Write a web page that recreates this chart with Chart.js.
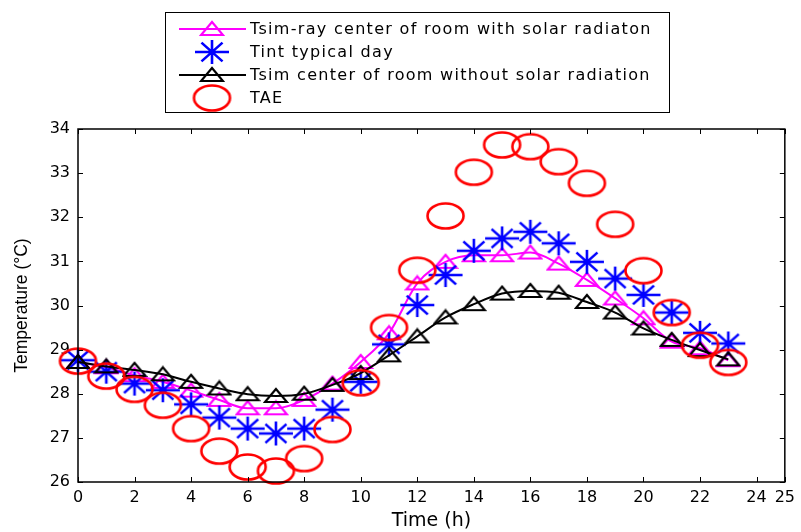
<!DOCTYPE html>
<html>
<head>
<meta charset="utf-8">
<script src="https://cdn.jsdelivr.net/npm/chart.js@4.4.0/dist/chart.umd.min.js"></script>
<style>
    html, body { margin: 0; padding: 0; background: #fff; }
    #wrap { width: 801px; height: 532px; }
</style>
</head>
<body>
<div id="wrap"><canvas id="tempChart" width="801" height="532"></canvas></div>
<script>
    "use strict";

    // Data (hourly values)
    const hours = [0, 1, 2, 3, 4, 5, 6, 7, 8, 9, 10, 11, 12, 13, 14, 15, 16, 17, 18, 19, 20, 21, 22, 23];
    const tsimRay = [28.72, 28.6, 28.42, 28.27, 28.07, 27.86, 27.67, 27.67, 27.86, 28.23, 28.72, 29.37,
        30.5, 30.99, 31.14, 31.14, 31.2, 30.95, 30.58, 30.16, 29.71, 29.18, 29.03, 28.76];
    const tintDay = [28.76, 28.5, 28.23, 28.08, 27.76, 27.46, 27.21, 27.1, 27.21, 27.64, 28.27, 29.12,
        30.01, 30.69, 31.24, 31.52, 31.67, 31.41, 30.99, 30.61, 30.24, 29.84, 29.38, 29.14];
    const tsimNoSolar = [28.72, 28.62, 28.54, 28.44, 28.27, 28.12, 27.99, 27.95, 28.0, 28.2, 28.47, 28.87,
        29.3, 29.73, 30.03, 30.27, 30.33, 30.29, 30.08, 29.84, 29.48, 29.22, 28.99, 28.78];
    const tae = [28.74, 28.4, 28.1, 27.74, 27.21, 26.7, 26.34, 26.25, 26.53, 27.19, 28.25, 29.5,
        30.8, 32.03, 33.02, 33.64, 33.6, 33.26, 32.77, 31.84, 30.79, 29.84, 29.1, 28.71];

    const xTicks = [0, 2, 4, 6, 8, 10, 12, 14, 16, 18, 20, 22, 24, 25];
    const yTicks = [26, 27, 28, 29, 30, 31, 32, 33, 34];

    const seriesNames = [
        'Tsim-ray center of room with solar radiaton',
        'Tint typical day',
        'Tsim center of room without solar radiation',
        'TAE'
    ];

    const FONT = "'DejaVu Sans', Arial, sans-serif";
    const FONT_Y = "'Liberation Sans', Arial, sans-serif";

    // Marker images (MATLAB style, slightly stretched horizontally)
    function makeCanvas(w, h) {
        const c = document.createElement('canvas');
        c.width = w;
        c.height = h;
        return c;
    }

    function ellipseMarker(color) {
        const c = makeCanvas(41, 30);
        const g = c.getContext('2d');
        g.strokeStyle = color;
        g.lineWidth = 2.6;
        g.beginPath();
        g.ellipse(20.5, 15, 18, 12.5, 0, 0, Math.PI * 2);
        g.stroke();
        return c;
    }

    function starMarker(color) {
        const c = makeCanvas(38, 28);
        const g = c.getContext('2d');
        const cx = 19, cy = 14, rx = 17, ry = 12;
        g.strokeStyle = color;
        g.lineWidth = 2.6;
        g.beginPath();
        g.moveTo(cx - rx, cy); g.lineTo(cx + rx, cy);
        g.moveTo(cx, cy - ry); g.lineTo(cx, cy + ry);
        g.moveTo(cx - rx * 0.62, cy - ry * 0.78); g.lineTo(cx + rx * 0.62, cy + ry * 0.78);
        g.moveTo(cx - rx * 0.62, cy + ry * 0.78); g.lineTo(cx + rx * 0.62, cy - ry * 0.78);
        g.stroke();
        return c;
    }

    function triangleMarker(color) {
        const c = makeCanvas(26, 18);
        const g = c.getContext('2d');
        g.strokeStyle = color;
        g.lineWidth = 2.2;
        g.lineJoin = 'miter';
        g.beginPath();
        g.moveTo(13, 2);
        g.lineTo(24, 15);
        g.lineTo(2, 15);
        g.closePath();
        g.stroke();
        return c;
    }

    const markers = [
        triangleMarker('#ff00ff'),
        starMarker('#0000ff'),
        triangleMarker('#000000'),
        ellipseMarker('#ff0000')
    ];
    const lineColors = ['#ff00ff', null, '#000000', null];

    function pts(arr) {
        return hours.map(function (h, i) { return { x: h, y: arr[i] }; });
    }

    // Framed legend like the MATLAB one
    const boxLegend = {
        id: 'boxLegend',
        afterDraw: function (chart) {
            const ctx = chart.ctx;
            ctx.save();
            ctx.fillStyle = '#fff';
            ctx.fillRect(165, 12, 505, 101);
            ctx.strokeStyle = '#000';
            ctx.lineWidth = 1;
            ctx.strokeRect(165.5, 12.5, 504, 100);
            ctx.font = '16px ' + FONT;
            ctx.letterSpacing = '1.3px';
            ctx.textBaseline = 'middle';
            ctx.textAlign = 'left';
            chart.data.datasets.forEach(function (ds, i) {
                const y = 29 + i * 23;
                if (lineColors[i]) {
                    ctx.strokeStyle = lineColors[i];
                    ctx.lineWidth = 2;
                    ctx.beginPath();
                    ctx.moveTo(179, y);
                    ctx.lineTo(246, y);
                    ctx.stroke();
                }
                const m = markers[i];
                ctx.drawImage(m, 212 - m.width / 2, y - m.height / 2);
                ctx.fillStyle = '#000';
                ctx.fillText(ds.label, 250, y + 1);
            });
            ctx.restore();
        }
    };

    // Box around the axes with inward ticks on all sides
    const axesBox = {
        id: 'axesBox',
        afterDraw: function (chart) {
            const ctx = chart.ctx;
            const a = chart.chartArea;
            const xs = chart.scales.x, ys = chart.scales.y;
            ctx.save();
            ctx.strokeStyle = '#000';
            ctx.lineWidth = 1.5;
            ctx.strokeRect(a.left, a.top, a.right - a.left, a.bottom - a.top);
            ctx.lineWidth = 1;
            ctx.beginPath();
            xs.ticks.forEach(function (t) {
                const px = Math.round(xs.getPixelForValue(t.value)) + 0.5;
                ctx.moveTo(px, a.bottom); ctx.lineTo(px, a.bottom - 5);
                ctx.moveTo(px, a.top); ctx.lineTo(px, a.top + 5);
            });
            ys.ticks.forEach(function (t) {
                const py = Math.round(ys.getPixelForValue(t.value)) + 0.5;
                ctx.moveTo(a.left, py); ctx.lineTo(a.left + 5, py);
                ctx.moveTo(a.right, py); ctx.lineTo(a.right - 5, py);
            });
            ctx.stroke();
            ctx.restore();
        }
    };

    const ctx = document.getElementById('tempChart');
    const myChart = new Chart(ctx, {
        type: 'line',
        data: {
            datasets: [{
                label: seriesNames[0],
                data: pts(tsimRay),
                borderColor: '#ff00ff',
                borderWidth: 2,
                pointStyle: markers[0],
                cubicInterpolationMode: 'monotone',
                clip: false,
                order: 3
            }, {
                label: seriesNames[1],
                data: pts(tintDay),
                showLine: false,
                borderColor: '#0000ff',
                pointStyle: markers[1],
                clip: false,
                order: 2
            }, {
                label: seriesNames[2],
                data: pts(tsimNoSolar),
                borderColor: '#000000',
                borderWidth: 2,
                pointStyle: markers[2],
                cubicInterpolationMode: 'monotone',
                clip: false,
                order: 1
            }, {
                label: seriesNames[3],
                data: pts(tae),
                showLine: false,
                borderColor: '#ff0000',
                pointStyle: markers[3],
                clip: false,
                order: 0
            }]
        },
        options: {
            responsive: false,
            animation: false,
            devicePixelRatio: 1,
            layout: { padding: { top: 129, right: 11, left: 0, bottom: 0 } },
            plugins: {
                legend: { display: false },
                tooltip: { enabled: false }
            },
            scales: {
                x: {
                    type: 'linear',
                    min: 0,
                    max: 25,
                    afterBuildTicks: function (s) { s.ticks = xTicks.map(function (v) { return { value: v }; }); },
                    afterFit: function (s) { s.height = 50; },
                    grid: { display: false, drawTicks: false },
                    border: { display: false },
                    ticks: {
                        autoSkip: false,
                        maxRotation: 0,
                        color: '#000',
                        padding: 6,
                        font: { family: FONT, size: 16 }
                    },
                    title: {
                        display: true,
                        text: 'Time (h)',
                        color: '#000',
                        font: { family: FONT, size: 19 },
                        padding: { top: 0, bottom: 0 }
                    }
                },
                y: {
                    min: 26,
                    max: 34,
                    afterBuildTicks: function (s) { s.ticks = yTicks.map(function (v) { return { value: v }; }); },
                    afterFit: function (s) { s.width = 78; },
                    grid: { display: false, drawTicks: false },
                    border: { display: false },
                    ticks: {
                        color: '#000',
                        padding: 8,
                        font: { family: FONT, size: 16 }
                    },
                    title: {
                        display: true,
                        text: 'Temperature (°C)',
                        color: '#000',
                        font: { family: FONT_Y, size: 17.5 },
                        padding: { top: 12, bottom: 0 }
                    }
                }
            }
        },
        plugins: [axesBox, boxLegend]
    });
</script>
</body>
</html>
